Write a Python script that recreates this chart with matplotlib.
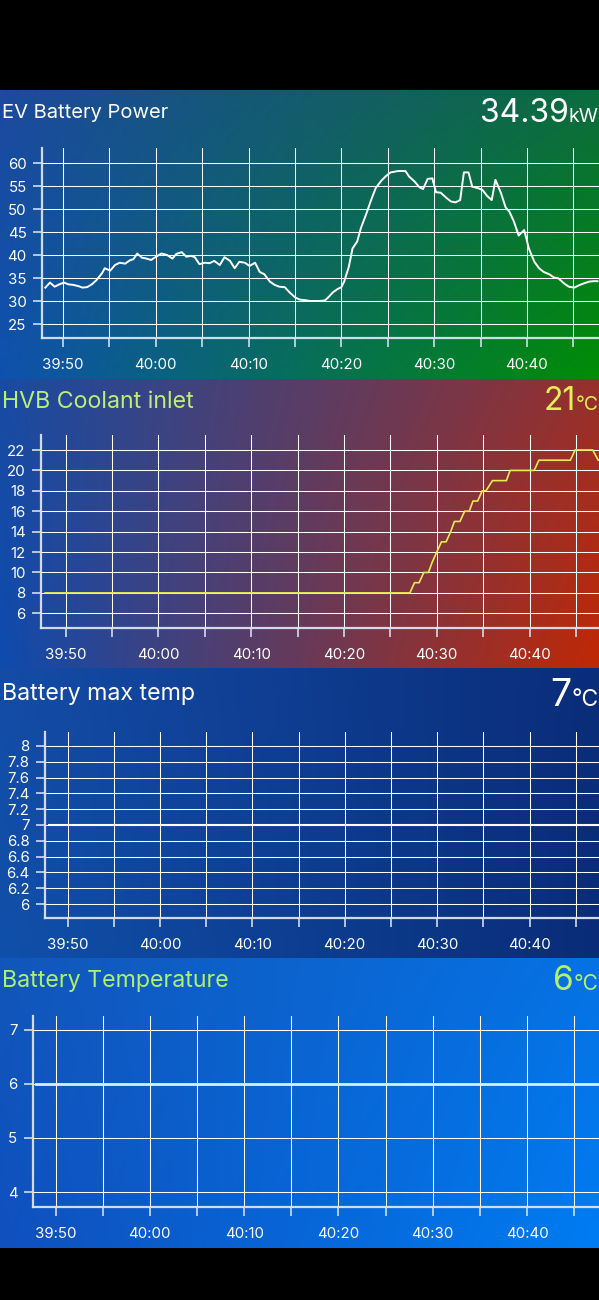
import matplotlib
matplotlib.use("Agg")
import matplotlib.pyplot as plt
import numpy as np
from matplotlib.ticker import FixedLocator, FuncFormatter

plt.rcParams['font.family'] = ['Inter', 'DejaVu Sans']

# ---------------- DATA ----------------
# time in seconds after 39:00
power_t = [48.1, 48.6, 49.1, 49.6, 50.1, 50.6, 51.1, 51.7, 52.1, 52.6, 53.1, 53.6, 54.2, 54.5,
           55.1, 55.6, 56.1, 56.7, 57.2, 57.6, 58.0, 58.5, 59.0, 59.5, 60.1, 60.6, 61.2, 61.8,
           62.2, 62.8, 63.3, 63.8, 64.2, 64.7, 65.3, 65.8, 66.3, 66.9, 67.4, 68.0, 68.5, 69.0,
           69.6, 70.1, 70.7, 71.2, 71.7, 72.3, 72.8, 73.3, 73.9, 74.4, 75.0, 75.5, 76.0, 76.6,
           77.1, 77.6, 78.2, 78.5, 79.1, 79.6, 80.0, 80.3, 80.8, 81.2, 81.7, 82.1, 82.7, 83.2,
           83.7, 84.3, 84.8, 85.3, 86.1, 86.9, 87.3, 87.9, 88.4, 88.8, 89.3, 89.8, 90.2, 90.7,
           91.3, 91.8, 92.3, 92.8, 93.2, 93.7, 94.1, 94.7, 95.2, 95.7, 96.2, 96.6, 97.2, 97.7,
           98.1, 98.6, 99.1, 99.7, 100.2, 100.8, 101.3, 101.8, 102.4, 102.9, 103.4, 104.0,
           104.5, 105.1, 105.6, 106.1, 106.7, 107.2, 107.6]
power_kw = [33.0, 34.1, 33.2, 33.7, 34.1, 33.7, 33.6, 33.3, 33.0, 33.1, 33.7, 34.6, 36.1, 37.2,
            36.7, 37.9, 38.4, 38.2, 38.9, 39.2, 40.4, 39.5, 39.3, 39.0, 39.8, 40.4, 40.1, 39.3,
            40.3, 40.7, 39.7, 39.9, 39.6, 38.1, 38.4, 38.3, 38.8, 37.9, 39.6, 38.8, 37.2, 38.6,
            38.4, 37.7, 38.4, 36.4, 35.9, 34.3, 33.6, 33.2, 33.1, 32.0, 30.9, 30.4, 30.3, 30.1,
            30.1, 30.1, 30.2, 30.7, 32.0, 32.7, 33.1, 34.3, 37.5, 41.5, 43.0, 45.9, 49.1, 52.0,
            54.6, 56.2, 57.2, 58.0, 58.3, 58.3, 57.1, 56.0, 54.8, 54.4, 56.6, 56.7, 53.7, 53.6,
            52.5, 51.7, 51.5, 52.0, 58.0, 58.0, 54.9, 54.6, 54.2, 52.9, 52.0, 56.4, 53.5, 50.4,
            49.5, 47.3, 44.3, 45.5, 41.5, 38.6, 37.2, 36.4, 35.9, 35.2, 35.0, 33.9,
            33.2, 33.0, 33.5, 33.9, 34.3, 34.4, 34.39]

coolant_t = [47.8, 87.1, 87.6, 88.1, 88.6, 89.1, 89.5, 90.0, 90.5, 91.0, 91.5, 91.9, 92.5, 93.0,
             93.5, 93.9, 94.4, 94.9, 95.3, 96.0, 97.5, 97.9, 100.5, 101.0, 104.4, 104.9, 106.8, 107.4]
coolant_c = [8, 8, 9, 9, 10, 10, 11, 12, 13, 13, 14, 15, 15, 16,
             16, 17, 17, 18, 18, 19, 19, 20, 20, 21, 21, 22, 22, 21]

maxtemp_t = [48.0, 107.6]
maxtemp_c = [7, 7]

battemp_t = [47.9, 107.7]
battemp_c = [6, 6]

titles = ["EV Battery Power", "HVB Coolant inlet", "Battery max temp", "Battery Temperature"]
values = ["34.39", "21", "7", "6"]
units = ["kW", "°C", "°C", "°C"]
x_major = [50, 60, 70, 80, 90, 100]
x_minor = [55, 65, 75, 85, 95, 105]
y_ticks = [[25, 30, 35, 40, 45, 50, 55, 60],
           [6, 8, 10, 12, 14, 16, 18, 20, 22],
           [6.0, 6.2, 6.4, 6.6, 6.8, 7.0, 7.2, 7.4, 7.6, 7.8, 8.0],
           [4, 5, 6, 7]]

# ---------------- LAYOUT ----------------
W, H = 599, 1300
fig = plt.figure(figsize=(W / 100, H / 100), dpi=100, facecolor='black')

def fx(x):
    return x / W

def fy(y):
    return 1 - y / H

panels = [
    dict(top=90, bot=379, left=42, atop=148, abot=338.3, xlim=(47.74, 107.76), ylim=(22.0, 63.3),
         tb=118.5, vb=122.3, tfs=14.5, vfs=23, ufs=14,
         bg=((28, 74, 158), (12, 108, 62), (14, 82, 174), (0, 140, 5)),
         tcol='white', vcol='white', lcol='white', lw=1.4),
    dict(top=379, bot=668, left=41, atop=435, abot=628.3, xlim=(47.35, 107.48), ylim=(4.53, 23.47),
         tb=407.5, vb=410.0, tfs=16.7, vfs=23, ufs=14,
         bg=((25, 75, 162), (150, 48, 45), (15, 75, 174), (192, 40, 5)),
         tcol='#baee78', vcol='#e4ee55', lcol='#e6ec50', lw=1.2),
    dict(top=668, bot=958, left=45, atop=731.7, abot=918.3, xlim=(47.56, 107.52), ylim=(5.82, 8.18),
         tb=700.0, vb=705.5, tfs=16.7, vfs=27, ufs=16.5,
         bg=((20, 76, 166), (10, 45, 122), (16, 80, 170), (10, 44, 120)),
         tcol='white', vcol='white', lcol='white', lw=1.5),
    dict(top=958, bot=1248, left=32.7, atop=1016, abot=1207.3, xlim=(47.58, 107.63), ylim=(3.72, 7.25),
         tb=987.5, vb=990.0, tfs=16.7, vfs=24, ufs=15,
         bg=((18, 86, 186), (6, 114, 228), (15, 80, 190), (0, 124, 242)),
         tcol='#aef06a', vcol='#b6f06c', lcol='#d2f0ff', lw=2.0),
]
series = [(power_t, power_kw), (coolant_t, coolant_c), (maxtemp_t, maxtemp_c), (battemp_t, battemp_c)]

def mmss(v, pos=None):
    m = 39 + int(v // 60)
    s = int(round(v % 60))
    return f"{m}:{s:02d}"

def yfmt(v, pos=None):
    return f"{round(v, 1):g}"

axis_col = (0.86, 0.89, 0.95, 0.95)
grid_col = (1, 1, 1, 0.26)

unit_texts = []
for i, p in enumerate(panels):
    # background gradient
    bga = fig.add_axes([0, fy(p['bot']), 1, (p['bot'] - p['top']) / H], zorder=0)
    bga.set_axis_off()
    n = 80
    u = np.linspace(0, 1, n)
    U, V = np.meshgrid(u, u)
    U = U[..., None]
    V = V[..., None]
    c = [np.array(k) / 255 for k in p['bg']]
    img = (1 - U) * (1 - V) * c[0] + U * (1 - V) * c[1] + (1 - U) * V * c[2] + U * V * c[3]
    bga.imshow(np.clip(img, 0, 1), aspect='auto', extent=(0, 1, 0, 1), origin='upper',
               interpolation='bilinear')
    bga.set_xlim(0, 1)
    bga.set_ylim(0, 1)

    ax = fig.add_axes([fx(p['left']), fy(p['abot']), 1 - fx(p['left']), (p['abot'] - p['atop']) / H],
                      zorder=2)
    ax.patch.set_alpha(0)
    t, v = series[i]
    ax.plot(t, v, color=p['lcol'], lw=p['lw'], solid_joinstyle='round', zorder=3)
    ax.set_xlim(*p['xlim'])
    ax.set_ylim(*p['ylim'])
    ax.xaxis.set_major_locator(FixedLocator(x_major))
    ax.xaxis.set_minor_locator(FixedLocator(x_minor))
    ax.xaxis.set_major_formatter(FuncFormatter(mmss))
    ax.yaxis.set_major_locator(FixedLocator(y_ticks[i]))
    ax.yaxis.set_major_formatter(FuncFormatter(yfmt))
    for s in ('top', 'right'):
        ax.spines[s].set_visible(False)
    for s in ('left', 'bottom'):
        ax.spines[s].set_color(axis_col)
        ax.spines[s].set_linewidth(1.6)
    ax.tick_params(axis='both', which='both', color=axis_col, width=1.2, length=6.5,
                   direction='out', labelcolor='white', labelsize=10.8)
    ax.tick_params(axis='x', which='both', pad=7.5)
    ax.tick_params(axis='y', pad=4.5)
    ax.grid(True, which='both', axis='x', color=grid_col, lw=0.75)
    ax.grid(True, which='major', axis='y', color=grid_col, lw=0.75)
    ax.set_axisbelow(True)

    fig.text(fx(1.5), fy(p['tb']), titles[i], color=p['tcol'], fontsize=p['tfs'],
             ha='left', va='baseline', zorder=5)
    ut = fig.text(fx(598.5), fy(p['vb']), units[i], color=p['vcol'], fontsize=p['ufs'],
                  ha='right', va='baseline', zorder=5)
    unit_texts.append((ut, p))

fig.canvas.draw()
r = fig.canvas.get_renderer()
for i, (ut, p) in enumerate(unit_texts):
    bb = ut.get_window_extent(r)
    fig.text(bb.x0 / fig.bbox.width, fy(p['vb']), values[i], color=p['vcol'], fontsize=p['vfs'],
             ha='right', va='baseline', zorder=5)

fig.savefig("out.png", dpi=100, facecolor='black')
